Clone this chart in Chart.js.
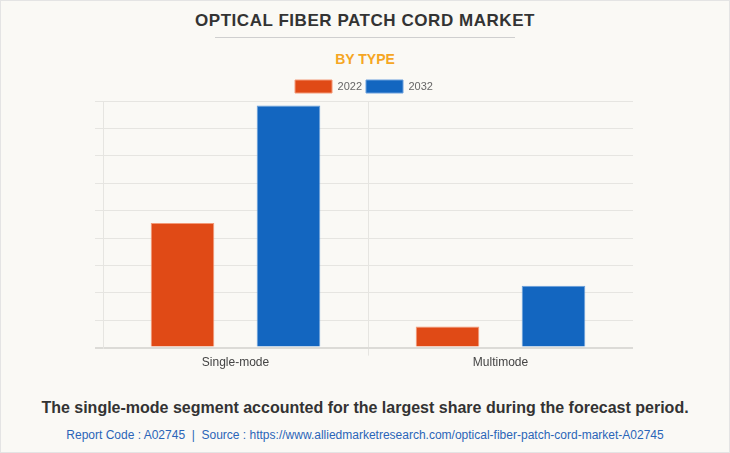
<!DOCTYPE html>
<html>
<head>
<meta charset="utf-8">
<script src="https://cdn.jsdelivr.net/npm/chart.js@4/dist/chart.umd.min.js"></script>
<style>
  html, body { margin: 0; padding: 0; }
  body { width: 730px; height: 453px; background: #faf9f5; position: relative; overflow: hidden; font-family: "Liberation Sans", Arial, sans-serif; }
  .frame { position: absolute; left: 0; top: 0; width: 728px; height: 451px; border: 1px solid #e4e4e4; }
  #title { position: absolute; left: 0; width: 730px; top: 11px; text-align: center; font-weight: bold; font-size: 17px; color: #333; letter-spacing: 0.55px; }
  #rule { position: absolute; left: 215px; width: 300px; top: 37px; height: 1px; background: #cfcfcf; }
  #subtitle { position: absolute; left: 0; width: 730px; top: 51px; text-align: center; font-weight: bold; font-size: 14px; color: #f5a623; }
  #chartBox { position: absolute; left: 0; top: 76px; width: 730px; height: 294px; }
  #note { position: absolute; left: 0; width: 730px; top: 399px; text-align: center; font-weight: bold; font-size: 16px; color: #333; }
  #source { position: absolute; left: 0; width: 730px; top: 428px; text-align: center; font-size: 12px; color: #2a65b8; }
</style>
</head>
<body>
<div class="frame"></div>
<div id="title">OPTICAL FIBER PATCH CORD MARKET</div>
<div id="rule"></div>
<div id="subtitle">BY TYPE</div>
<div id="chartBox"><canvas id="c"></canvas></div>
<div id="note">The single-mode segment accounted for the largest share during the forecast period.</div>
<div id="source">Report Code : A02745 &nbsp;|&nbsp; Source : https://www.alliedmarketresearch.com/optical-fiber-patch-cord-market-A02745</div>
<script>
const categories = ["Single-mode", "Multimode"];
const series2022 = [455, 77];
const series2032 = [884, 226];
const seriesLabels = ["2022", "2032"];

const gridColor = "#e6e5e1";
const legendGap = {
  id: "legendGap",
  beforeInit(chart) {
    const lg = chart.legend;
    if (!lg) return;
    const fit = lg.fit;
    lg.fit = function () { fit.call(this); this.height -= 2; };
  }
};
new Chart(document.getElementById("c"), {
  type: "bar",
  data: {
    labels: categories,
    datasets: [
      { label: seriesLabels[0], data: series2022, backgroundColor: "#e04a16", borderColor: "#f39a78", borderWidth: 1 },
      { label: seriesLabels[1], data: series2032, backgroundColor: "#1366c0", borderColor: "#6a9fdc", borderWidth: 1 }
    ]
  },
  plugins: [legendGap],
  options: {
    responsive: true,
    maintainAspectRatio: false,
    animation: false,
    layout: { padding: { left: 95, right: 97, top: 0, bottom: 0 } },
    datasets: { bar: { categoryPercentage: 0.8, barPercentage: 0.6 } },
    plugins: {
      legend: {
        display: true,
        position: "top",
        labels: { boxWidth: 37, boxHeight: 13, padding: 4, color: "#666", font: { family: "Liberation Sans", size: 11 } }
      },
      tooltip: { enabled: false }
    },
    scales: {
      x: {
        grid: { offset: true, color: (ctx) => (ctx.type === "tick" && ctx.index === 1) ? gridColor : "rgba(0,0,0,0)", tickLength: 8 },
        border: { display: false },
        ticks: { color: "#444", padding: 0, font: { family: "Liberation Sans", size: 12 } }
      },
      y: {
        min: 0, max: 900,
        ticks: { display: false, stepSize: 100 },
        grid: {
          color: (ctx) => (ctx.tick && ctx.tick.value === 0) ? "#dcdbd7" : gridColor,
          lineWidth: (ctx) => (ctx.tick && ctx.tick.value === 0) ? 2 : 1,
          tickLength: 8
        },
        border: { display: true, color: gridColor }
      }
    }
  }
});
</script>
</body>
</html>
